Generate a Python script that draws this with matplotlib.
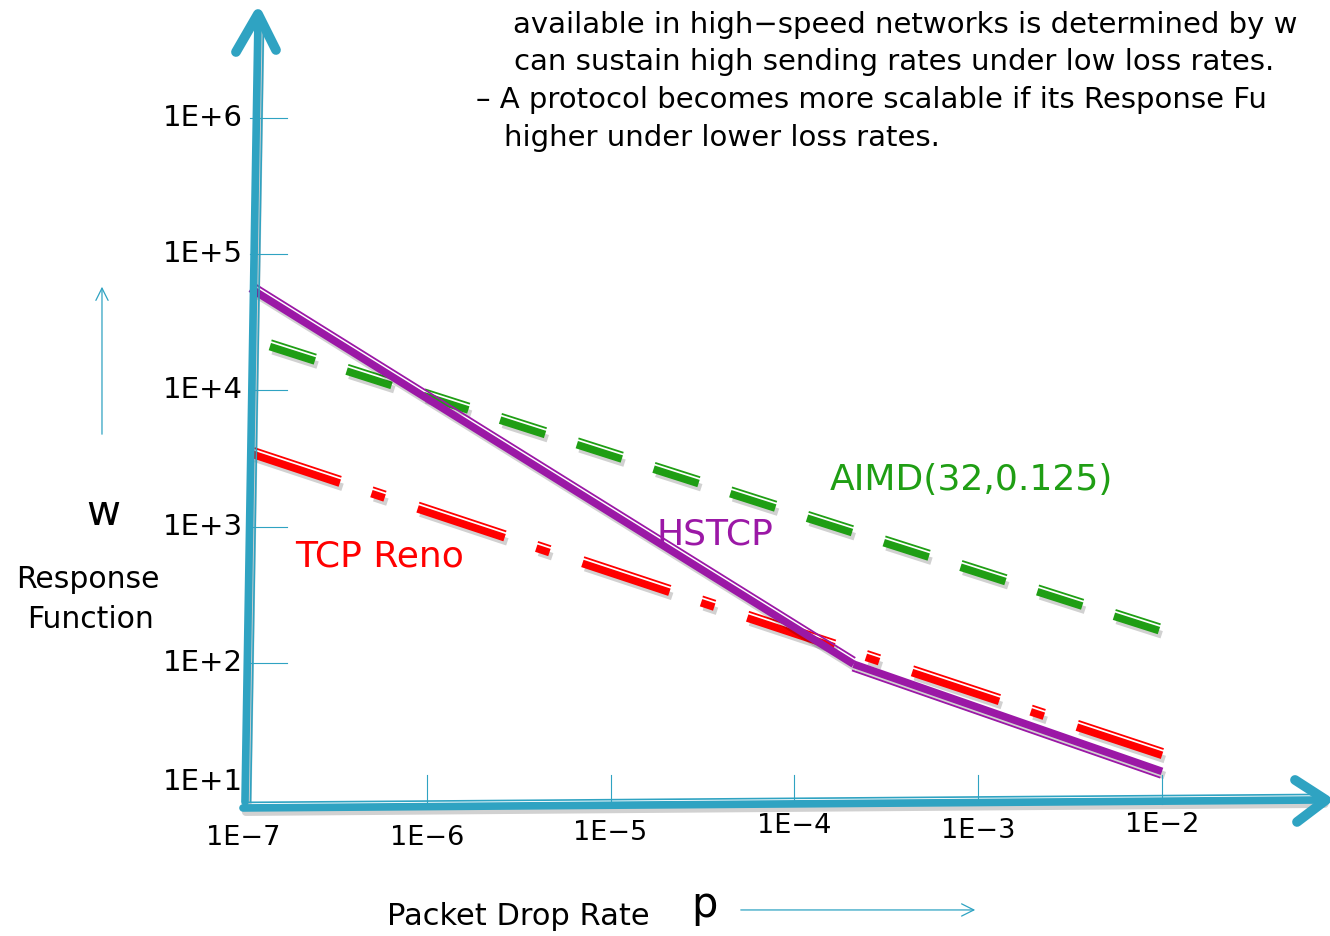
import numpy as np
import matplotlib
matplotlib.use("Agg")
import matplotlib.pyplot as plt
import matplotlib.patheffects as pe

plt.rcParams['lines.scale_dashes'] = False
plt.rcParams['font.family'] = ['DejaVu Sans']

# data (p = packet drop rate, w = response function)
reno_p = [1.13e-7, 1e-2]
reno_w = [3400, 21]
aimd_p = [1.4e-7, 1e-2]
aimd_w = [2.1e4, 170]
hstcp_p = [1.1e-7, 2.1e-4, 1e-2]
hstcp_w = [5.6e4, 98, 16]

x_ticks = [1e-7, 1e-6, 1e-5, 1e-4, 1e-3, 1e-2]
x_labels = ['1E−7', '1E−6', '1E−5', '1E−4', '1E−3', '1E−2']
y_ticks = [1e1, 1e2, 1e3, 1e4, 1e5, 1e6]
y_labels = ['1E+1', '1E+2', '1E+3', '1E+4', '1E+5', '1E+6']

# bullet text as far as it is visible on the slide
bullet_lines = ['available in high−speed networks is determined by w',
                'can sustain high sending rates under low loss rates.',
                '– A protocol becomes more scalable if its Response Fu',
                'higher under lower loss rates.']

teal = '#2fa3c2'
red = '#ff0000'
green = '#1f9e14'
purple = '#9b18a6'

fig = plt.figure(figsize=(13.3, 9.36), dpi=100)
ax = fig.add_axes([0, 0, 1, 1])
ax.set_xscale('log')
ax.set_yscale('log')
ax.set_xlim(10 ** -8.322, 10 ** -1.086)
ax.set_ylim(10 ** -0.004, 10 ** 6.866)
ax.axis('off')


# helpers to place the slide's text by pixel position
def fx(px):
    return 10 ** (-7 + (px - 243) / 183.8)


def fy(py):
    return 10 ** (6 - (py - 118) / 136.25)


shadow = pe.SimpleLineShadow(offset=(2, -3), shadow_color='black', alpha=0.18)


def double_line(x, y, color, side=1, **kw):
    # thick line plus a thin parallel line, like the slide drawing
    ax.plot(x, y, color=color, lw=5.5, solid_capstyle='butt', dash_capstyle='butt',
            path_effects=[shadow,
                          pe.Stroke(offset=(side * 1.2, side * 4.5), linewidth=1.3, foreground=color),
                          pe.Normal()], **kw)


double_line(aimd_p, aimd_w, green, dashes=(34, 24))
double_line(reno_p, reno_w, red, dashes=(66, 24, 10, 25))
double_line(hstcp_p[:2], hstcp_w[:2], purple)
double_line(hstcp_p[1:], hstcp_w[1:], purple, side=-1)

# axes drawn like the slide's arrows
ax.plot([fx(245), fx(258)], [fy(802), fy(20)], color=teal, lw=5.5, solid_capstyle='round',
        path_effects=[shadow, pe.Stroke(offset=(4, 0), linewidth=1.2, foreground=teal), pe.Normal()])
ax.plot([fx(236), fx(258), fx(276)], [fy(52), fy(14), fy(50)],
        color=teal, lw=7, solid_capstyle='round', solid_joinstyle='round')
ax.plot([fx(243), fx(1322)], [fy(808), fy(800)], color=teal, lw=5.5, solid_capstyle='round',
        path_effects=[shadow, pe.Stroke(offset=(0, 4), linewidth=1.2, foreground=teal), pe.Normal()])
ax.plot([fx(1295), fx(1326), fx(1297)], [fy(780), fy(800), fy(822)],
        color=teal, lw=7, solid_capstyle='round', solid_joinstyle='round')

# tick marks and labels
label_py = [838, 838, 833, 826, 831, 825]
for xt, lab, ly in zip(x_ticks, x_labels, label_py):
    if xt > 1e-7:
        ax.plot([xt, xt], [fy(804), fy(775)], color=teal, lw=0.8)
    ax.text(xt, fy(ly), lab, ha='center', va='center', fontsize=19.5)
for yt, lab in zip(y_ticks, y_labels):
    if yt > 10:
        ax.plot([fx(250), fx(287)], [yt, yt], color=teal, lw=0.8)
    yy = yt if yt > 10 else fy(782)
    ax.text(fx(243), yy, lab, ha='right', va='center', fontsize=21)

ax.text(fx(830), fy(480), 'AIMD(32,0.125)', color=green, fontsize=26, va='center')
ax.text(fx(657), fy(535), 'HSTCP', color=purple, fontsize=26, va='center')
ax.text(fx(295), fy(557), 'TCP Reno', color=red, fontsize=26, va='center')

ax.text(fx(103), fy(513), 'w', fontsize=30, ha='center', va='center')
ax.text(fx(88), fy(580), 'Response', fontsize=21.5, ha='center', va='center')
ax.text(fx(91), fy(620), 'Function', fontsize=21.5, ha='center', va='center')
ax.annotate('', xy=(fx(102), fy(284)), xytext=(fx(102), fy(437)),
            arrowprops=dict(arrowstyle='->', color=teal, lw=0.9, mutation_scale=22))

ax.text(fx(518), fy(917), 'Packet Drop Rate', fontsize=22, ha='center', va='center')
ax.text(fx(704), fy(905), 'p', fontsize=30, ha='center', va='center')
ax.annotate('', xy=(fx(978), fy(910)), xytext=(fx(738), fy(910)),
            arrowprops=dict(arrowstyle='->', color=teal, lw=0.9, mutation_scale=22))

line_x = [513, 514, 476, 504]
line_y = [25, 62, 100, 138]
for s, lx, ly in zip(bullet_lines, line_x, line_y):
    ax.text(fx(lx), fy(ly), s, fontsize=21, va='center', ha='left')

fig.savefig('out.png', dpi=100)
